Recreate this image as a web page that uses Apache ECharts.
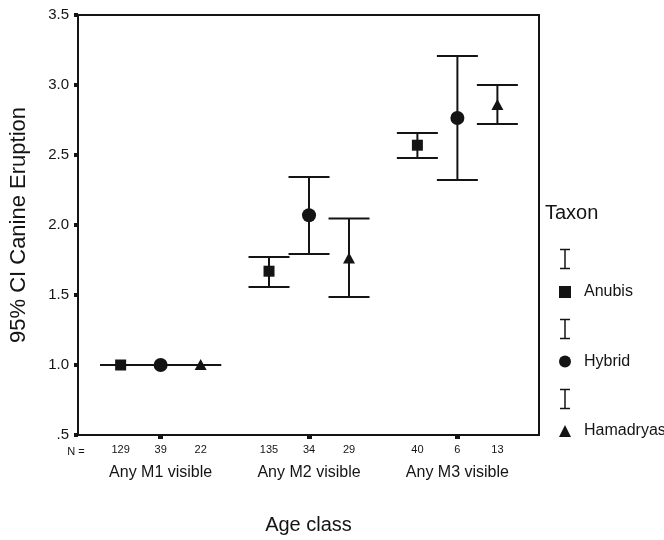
<!DOCTYPE html>
<html>
<head>
<meta charset="utf-8">
<script src="https://cdn.jsdelivr.net/npm/echarts@6/dist/echarts.min.js"></script>
<style>
html,body{margin:0;padding:0;background:#fff;}
#chart{width:664px;height:540px;}
</style>
</head>
<body>
<div id="chart"></div>
<script>
// ---- data ----
const categories = ['Any M1 visible', 'Any M2 visible', 'Any M3 visible'];
const taxa = ['Anubis', 'Hybrid', 'Hamadryas'];
const anubisMean = [1.0, 1.67, 2.57];
const anubisLow  = [1.0, 1.557, 2.479];
const anubisHigh = [1.0, 1.771, 2.657];
const hybridMean = [1.0, 2.07, 2.764];
const hybridLow  = [1.0, 1.793, 2.321];
const hybridHigh = [1.0, 2.343, 3.207];
const hamaMean = [1.0, 1.76, 2.857];
const hamaLow  = [1.0, 1.486, 2.721];
const hamaHigh = [1.0, 2.046, 3.0];
const anubisN = [129, 135, 40];
const hybridN = [39, 34, 6];
const hamaN   = [22, 29, 13];
const yTicks = [0.5, 1.0, 1.5, 2.0, 2.5, 3.0, 3.5];

// ---- styling / layout ----
const INK = '#141414';
const FONT = 'Liberation Sans, Arial, Helvetica, sans-serif';
const DODGE = 40;      // px between taxa within a category
const CAP = 20.5;      // half cap width px
const LW = 2;

function markerShape(kind, cx, cy) {
  if (kind === 'square') {
    return {type: 'rect', shape: {x: cx - 5.5, y: cy - 5.5, width: 11, height: 11}, style: {fill: INK}};
  }
  if (kind === 'circle') {
    return {type: 'circle', shape: {cx: cx, cy: cy, r: 7}, style: {fill: INK}};
  }
  return {type: 'polygon', shape: {points: [[cx, cy - 6], [cx + 6, cy + 5], [cx - 6, cy + 5]]}, style: {fill: INK}};
}

function errRender(kind, k) {
  return function (params, api) {
    const cat = api.value(0);
    const pLo = api.coord([cat, api.value(1)]);
    const pHi = api.coord([cat, api.value(2)]);
    const pM = api.coord([cat, api.value(3)]);
    const x = pM[0] + k * DODGE;
    const ls = {stroke: INK, lineWidth: LW};
    return {
      type: 'group',
      children: [
        {type: 'line', shape: {x1: x, y1: pLo[1], x2: x, y2: pHi[1]}, style: ls},
        {type: 'line', shape: {x1: x - CAP, y1: pLo[1], x2: x + CAP, y2: pLo[1]}, style: ls},
        {type: 'line', shape: {x1: x - CAP, y1: pHi[1], x2: x + CAP, y2: pHi[1]}, style: ls},
        markerShape(kind, x, pM[1])
      ]
    };
  };
}

function nRender(k) {
  return function (params, api) {
    const p = api.coord([api.value(0), 0.5]);
    return {
      type: 'text',
      x: p[0] + k * DODGE,
      y: p[1] + 15,
      style: {text: String(api.value(1)), fill: INK, font: '11px ' + FONT, align: 'center', verticalAlign: 'middle'}
    };
  };
}

function build(mean, low, high) {
  return categories.map((c, i) => [i + 1, low[i], high[i], mean[i]]);
}
function buildN(n) {
  return categories.map((c, i) => [i + 1, n[i]]);
}

const series = [
  {name: 'Anubis', type: 'custom', renderItem: errRender('square', -1), data: build(anubisMean, anubisLow, anubisHigh), itemStyle: {color: INK}, encode: {x: 0, y: [1, 2, 3]}},
  {name: 'Hybrid', type: 'custom', renderItem: errRender('circle', 0), data: build(hybridMean, hybridLow, hybridHigh), itemStyle: {color: INK}, encode: {x: 0, y: [1, 2, 3]}},
  {name: 'Hamadryas', type: 'custom', renderItem: errRender('triangle', 1), data: build(hamaMean, hamaLow, hamaHigh), itemStyle: {color: INK}, encode: {x: 0, y: [1, 2, 3]}},
  {type: 'custom', renderItem: nRender(-1), data: buildN(anubisN), clip: false, silent: true},
  {type: 'custom', renderItem: nRender(0), data: buildN(hybridN), clip: false, silent: true},
  {type: 'custom', renderItem: nRender(1), data: buildN(hamaN), clip: false, silent: true}
];

function ibar(cy) {
  const x = 565;
  const ls = {stroke: INK, lineWidth: 1.5};
  return {
    type: 'group',
    children: [
      {type: 'line', shape: {x1: x, y1: cy - 9.5, x2: x, y2: cy + 9.5}, style: ls},
      {type: 'line', shape: {x1: x - 5, y1: cy - 9.5, x2: x + 5, y2: cy - 9.5}, style: ls},
      {type: 'line', shape: {x1: x - 5, y1: cy + 9.5, x2: x + 5, y2: cy + 9.5}, style: ls}
    ]
  };
}

const chart = echarts.init(document.getElementById('chart'), null, {renderer: 'canvas'});
chart.setOption({
  backgroundColor: '#fff',
  animation: false,
  textStyle: {fontFamily: FONT, color: INK},
  grid: {left: 76, right: 125, top: 15, bottom: 103, show: true, borderColor: INK, borderWidth: 2, backgroundColor: 'transparent'},
  xAxis: {
    type: 'value',
    min: 0.443, max: 3.55,
    name: 'Age class',
    nameLocation: 'middle',
    nameGap: 80,
    nameTextStyle: {fontSize: 20, color: INK, fontFamily: FONT},
    axisLine: {show: true, lineStyle: {color: INK, width: 2}},
    axisTick: {show: true, customValues: [1, 2, 3], length: 4, lineStyle: {color: INK, width: 5}},
    axisLabel: {show: true, customValues: [1, 2, 3], margin: 30, fontSize: 16, color: INK, fontFamily: FONT,
      formatter: v => categories[Math.round(v) - 1] || ''},
    splitLine: {show: false}
  },
  yAxis: {
    type: 'value',
    min: 0.5, max: 3.5, interval: 0.5,
    name: '95% CI Canine Eruption',
    nameLocation: 'middle',
    nameRotate: 90,
    nameGap: 48,
    nameTextStyle: {fontSize: 22, color: INK, fontFamily: FONT},
    axisLine: {show: true, lineStyle: {color: INK, width: 2}},
    axisTick: {show: true, length: 4, lineStyle: {color: INK, width: 4}},
    axisLabel: {margin: 9, fontSize: 15, color: INK, fontFamily: FONT,
      formatter: v => (Math.abs(v - 0.5) < 1e-9 ? '.5' : v.toFixed(1))},
    splitLine: {show: false}
  },
  legend: {
    orient: 'vertical',
    left: 559, top: 284,
    padding: 0,
    itemWidth: 12, itemHeight: 12,
    itemGap: 53.5,
    selectedMode: false,
    textStyle: {fontSize: 16, color: INK, fontFamily: FONT, padding: [0, 0, 0, 8]},
    data: [
      {name: 'Anubis', icon: 'rect'},
      {name: 'Hybrid', icon: 'circle'},
      {name: 'Hamadryas', icon: 'triangle'}
    ]
  },
  graphic: [
    {type: 'text', left: 545, top: 203, style: {text: 'Taxon', font: '20px ' + FONT, fill: INK}},
    {type: 'text', x: 76, y: 452, style: {text: 'N =', font: '11px ' + FONT, fill: INK, align: 'center', verticalAlign: 'middle'}},
    ibar(259), ibar(329), ibar(399)
  ],
  series: series
});
</script>
</body>
</html>
